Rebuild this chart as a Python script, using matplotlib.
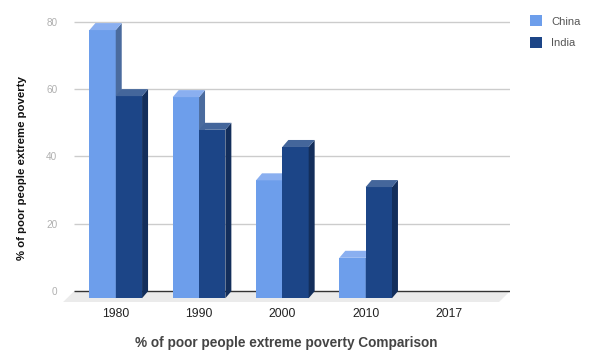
import numpy as np
import matplotlib.pyplot as plt
from matplotlib.patches import Polygon, Patch

plt.rcParams['font.family'] = ['Liberation Sans', 'DejaVu Sans']

years = ["1980", "1990", "2000", "2010", "2017"]
china = [79.6, 59.7, 35.0, 12.0, np.nan]
india = [60.0, 50.0, 44.9, 33.0, np.nan]
series_names = ["China", "India"]
y_ticks = [0, 20, 40, 60, 80]

# front, top, side colours for each series
colors = {
    "China": ("#6d9eeb", "#8aaff0", "#4a6b9e"),
    "India": ("#1c4587", "#44669b", "#132e5b"),
}

bar_w = 0.316      # width of one bar in category units
dx, dy = 0.072, 2.08   # bar depth offset
fdx, fdy = 0.132, 3.2  # floor depth

fig = plt.figure(figsize=(5.96, 3.62), dpi=100)
ax = fig.add_axes([63 / 596, 60 / 362, 447 / 596, 287 / 362])
ax.set_xlim(-0.633, 4.733)
ax.set_ylim(-fdy, 82)
for s in ax.spines.values():
    s.set_visible(False)

back_l, back_r = -0.5, ax.get_xlim()[1]

# floor
ax.add_patch(Polygon([(back_l, 0), (back_r, 0), (back_r - fdx, -fdy), (back_l - fdx, -fdy)],
                     closed=True, facecolor="#ebebeb", edgecolor="none", zorder=0))
# gridlines on back wall
ax.hlines(y_ticks[1:], back_l, back_r, color="#cccccc", lw=1, zorder=1)
ax.hlines(0, back_l, back_r, color="#333333", lw=1, zorder=1)


def bar3d(x0, v, name):
    front, top, side = colors[name]
    x1 = x0 + bar_w
    ax.bar(x0, v, width=bar_w, bottom=-dy, align="edge", color=front, zorder=3)
    ax.add_patch(Polygon([(x1, -dy), (x1 + dx, 0), (x1 + dx, v), (x1, v - dy)],
                         closed=True, facecolor=side, edgecolor="none", zorder=3))
    ax.add_patch(Polygon([(x0, v - dy), (x1, v - dy), (x1 + dx, v), (x0 + dx, v)],
                         closed=True, facecolor=top, edgecolor="none", zorder=3))


x = np.arange(len(years))
for i in x:
    if not np.isnan(china[i]):
        bar3d(i - bar_w, china[i], "China")
    if not np.isnan(india[i]):
        bar3d(i, india[i], "India")

ax.set_xticks(x)
ax.set_xticklabels(years, fontsize=8.8, color="#222222")
ax.set_yticks(y_ticks)
ax.set_yticklabels([str(t) for t in y_ticks], fontsize=7.2, color="#b0b0b0")
ax.tick_params(axis="both", length=0)
ax.tick_params(axis="x", pad=4)
ax.tick_params(axis="y", pad=4)

fig.text(286 / 596, 1 - 343 / 362, "% of poor people extreme poverty Comparison",
         ha="center", va="center", fontsize=9.8, fontweight="bold", color="#444444")
fig.text(22 / 596, 1 - 168 / 362, "% of poor people extreme poverty",
         ha="center", va="center", rotation=90, fontsize=8.2, fontweight="bold", color="#111111")

handles = [Patch(facecolor=colors[n][0]) for n in series_names]
fig.legend(handles, series_names, loc="upper left", bbox_to_anchor=(530 / 596, 1 - 15.5 / 362),
           frameon=False, fontsize=8, handlelength=1.1, handleheight=1.1,
           handletextpad=0.8, labelspacing=0.95, borderpad=0, borderaxespad=0,
           labelcolor="#555555")

fig.savefig("out.png", dpi=100)
